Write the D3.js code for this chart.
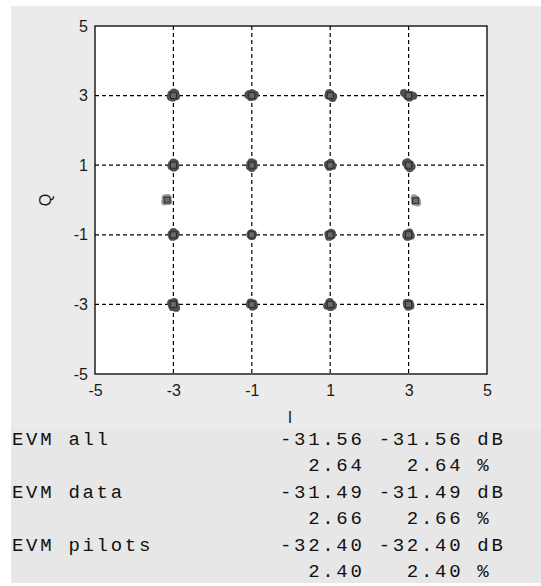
<!DOCTYPE html>
<html>
<head>
<meta charset="utf-8">
<script src="https://cdn.jsdelivr.net/npm/d3@7"></script>
<style>
  body { margin: 0; background: #fff; }
  .evm { font-family: "Liberation Mono", monospace; font-size: 19px; fill: #111; white-space: pre; }
</style>
</head>
<body>
<div id="chart"></div>
<script>
// axis ticks
const axisTicks = [-5, -3, -1, 1, 3, 5];
const gridTicks = [-3, -1, 1, 3];

// ideal 16-QAM points and pilot positions
const refI = [-3, -1, 1, 3];
const refQ = [3, 1, -1, -3];
const pilotRef = [[-3.16, 0], [3.18, -0.02]];

// measured data symbols [I, Q]
const dataPoints = [
  [-3.05,3.04],[-2.95,3.06],[-3.02,2.94],[-2.93,2.98],[-3.07,2.97],[-2.99,3.09],
  [-1.09,3.02],[-0.92,3.03],[-1.03,2.96],[-0.96,2.97],[-1.06,3.05],[-0.99,3.07],
  [0.97,3.07],[1.04,2.96],[1.08,2.98],[0.95,3.0],[1.01,3.05],[1.06,2.93],
  [2.88,3.08],[2.93,3.04],[3.06,3.02],[3.12,2.99],[3.02,2.94],[2.97,2.98],
  [-3.04,1.02],[-2.96,1.05],[-2.95,0.96],[-3.05,0.97],[-3.0,1.08],[-2.99,0.93],
  [-1.04,1.04],[-0.96,1.06],[-0.95,0.97],[-1.05,0.96],[-1.0,0.92],[-1.01,1.09],
  [0.94,1.02],[1.03,1.04],[1.06,0.98],[0.98,0.95],[1.01,1.07],[0.96,0.99],
  [2.93,1.06],[2.97,1.09],[3.04,1.03],[3.08,0.96],[3.03,0.91],[2.98,0.97],
  [-3.05,-0.98],[-2.96,-1.03],[-3.02,-1.06],[-2.94,-0.97],[-3.0,-0.92],[-3.04,-1.02],
  [-1.04,-1.0],[-0.97,-0.98],[-1.0,-1.04],[-0.98,-1.02],[-1.02,-0.96],
  [0.95,-0.98],[1.04,-1.02],[1.02,-0.94],[0.97,-1.06],[1.05,-0.97],[0.99,-1.04],
  [2.95,-0.97],[3.04,-1.0],[3.02,-0.93],[2.97,-1.06],[3.06,-1.03],[2.94,-1.02],
  [-3.06,-2.96],[-2.95,-3.03],[-3.02,-3.08],[-2.93,-3.1],[-3.04,-3.02],[-2.98,-2.93],
  [-1.05,-3.0],[-0.96,-2.97],[-0.98,-3.07],[-1.03,-2.94],[-0.94,-3.04],
  [0.92,-3.04],[0.97,-2.95],[1.05,-3.0],[1.01,-3.08],[1.07,-3.04],[0.99,-2.93],
  [2.96,-3.02],[3.03,-2.97],[3.05,-3.04],[2.99,-3.07],[2.95,-2.96]
];

// measured pilot symbols [I, Q]
const pilotPoints = [
  [-3.21,0.06],[-3.12,-0.04],[-3.17,0.0],[-3.22,-0.05],[-3.14,0.07],
  [3.14,0.06],[3.21,-0.01],[3.23,-0.08],[3.15,-0.06],[3.18,0.03]
];

// EVM readout
const evmLabels = ["EVM all", "EVM data", "EVM pilots"];
const evmDb = [[-31.56, -31.56], [-31.49, -31.49], [-32.40, -32.40]];
const evmPct = [[2.64, 2.64], [2.66, 2.66], [2.40, 2.40]];

let svg = d3.select('#chart')
  .append('svg')
  .attr('width', 541)
  .attr('height', 586);

// panels
svg.append('rect').attr('x', 11).attr('y', 6).attr('width', 530).attr('height', 423).style('fill', '#ebebeb');
svg.append('rect').attr('x', 11).attr('y', 429).attr('width', 530).attr('height', 154).style('fill', '#e7e7e7');

let xScale = d3.scaleLinear().domain([-5, 5]).range([95, 487]);
let yScale = d3.scaleLinear().domain([-5, 5]).range([374, 26]);

svg.append('rect')
  .attr('x', xScale(-5)).attr('y', yScale(5))
  .attr('width', xScale(5) - xScale(-5)).attr('height', yScale(-5) - yScale(5))
  .style('fill', '#fff');

// dashed grid
let grid = svg.append('g').attr('class', 'grid');
grid.selectAll('.gx').data(gridTicks).enter().append('line')
  .attr('x1', d => xScale(d)).attr('x2', d => xScale(d))
  .attr('y1', yScale(5)).attr('y2', yScale(-5));
grid.selectAll('.gy').data(gridTicks).enter().append('line')
  .attr('y1', d => yScale(d)).attr('y2', d => yScale(d))
  .attr('x1', xScale(-5)).attr('x2', xScale(5));
grid.selectAll('line').style('stroke', '#000').style('stroke-width', 1.2).style('stroke-dasharray', '4,3');

// axes (plain hyphen minus like the original)
let tickFmt = d => String(d);
let styleTicks = g => {
  g.select('.domain').remove();
  g.selectAll('text')
    .style('font-family', 'Liberation Sans, Arial, sans-serif')
    .style('font-size', '16px')
    .style('fill', '#1a1a1a');
};
svg.append('g')
  .attr('transform', `translate(0, ${yScale(-5)})`)
  .call(d3.axisBottom(xScale).tickValues(axisTicks).tickFormat(tickFmt).tickSize(0).tickPadding(11))
  .call(styleTicks);
svg.append('g')
  .attr('transform', `translate(${xScale(-5)}, 0)`)
  .call(d3.axisLeft(yScale).tickValues(axisTicks).tickFormat(tickFmt).tickSize(0).tickPadding(7))
  .call(styleTicks);

svg.append('text').attr('x', 290).attr('y', 423).attr('text-anchor', 'middle')
  .style('font-family', 'Liberation Sans, Arial, sans-serif').style('font-size', '16px').style('fill', '#1a1a1a')
  .text('I');
svg.append('text').attr('transform', 'translate(51, 200) rotate(-90)').attr('text-anchor', 'middle')
  .style('font-family', 'Liberation Sans, Arial, sans-serif').style('font-size', '16px').style('fill', '#1a1a1a')
  .text('Q');

// symbols
svg.append('g').selectAll('circle').data(dataPoints).enter().append('circle')
  .attr('cx', d => xScale(d[0])).attr('cy', d => yScale(d[1]))
  .attr('r', 3.9).style('fill', '#4f4f4f');
svg.append('g').selectAll('circle').data(pilotPoints).enter().append('circle')
  .attr('cx', d => xScale(d[0])).attr('cy', d => yScale(d[1]))
  .attr('r', 3.6).style('fill', '#9a9a9a');

let refPoints = [];
refQ.forEach(q => refI.forEach(i => refPoints.push([i, q])));
svg.append('g').selectAll('rect').data(refPoints.concat(pilotRef)).enter().append('rect')
  .attr('x', d => xScale(d[0]) - 3).attr('y', d => yScale(d[1]) - 3)
  .attr('width', 6).attr('height', 6)
  .style('fill', '#6a6a6a').style('stroke', '#2a2a2a').style('stroke-width', 1);

// border
svg.append('rect')
  .attr('x', xScale(-5)).attr('y', yScale(5))
  .attr('width', xScale(5) - xScale(-5)).attr('height', yScale(-5) - yScale(5))
  .style('fill', 'none').style('stroke', '#000').style('stroke-width', 1.3);

// EVM text rows
let fmt = v => v.toFixed(2);
let lines = [];
evmLabels.forEach((lab, k) => {
  lines.push(lab.padEnd(19) + fmt(evmDb[k][0]).padStart(6) + ' ' + fmt(evmDb[k][1]).padStart(6) + ' dB');
  lines.push(''.padEnd(19) + fmt(evmPct[k][0]).padStart(6) + ' ' + fmt(evmPct[k][1]).padStart(6) + ' %');
});
svg.append('g').selectAll('text').data(lines).enter().append('text')
  .attr('class', 'evm')
  .attr('x', 12)
  .attr('y', (d, i) => 445 + i * 26.4)
  .attr('xml:space', 'preserve')
  .style('letter-spacing', '2.7px')
  .text(d => d);
</script>
</body>
</html>
